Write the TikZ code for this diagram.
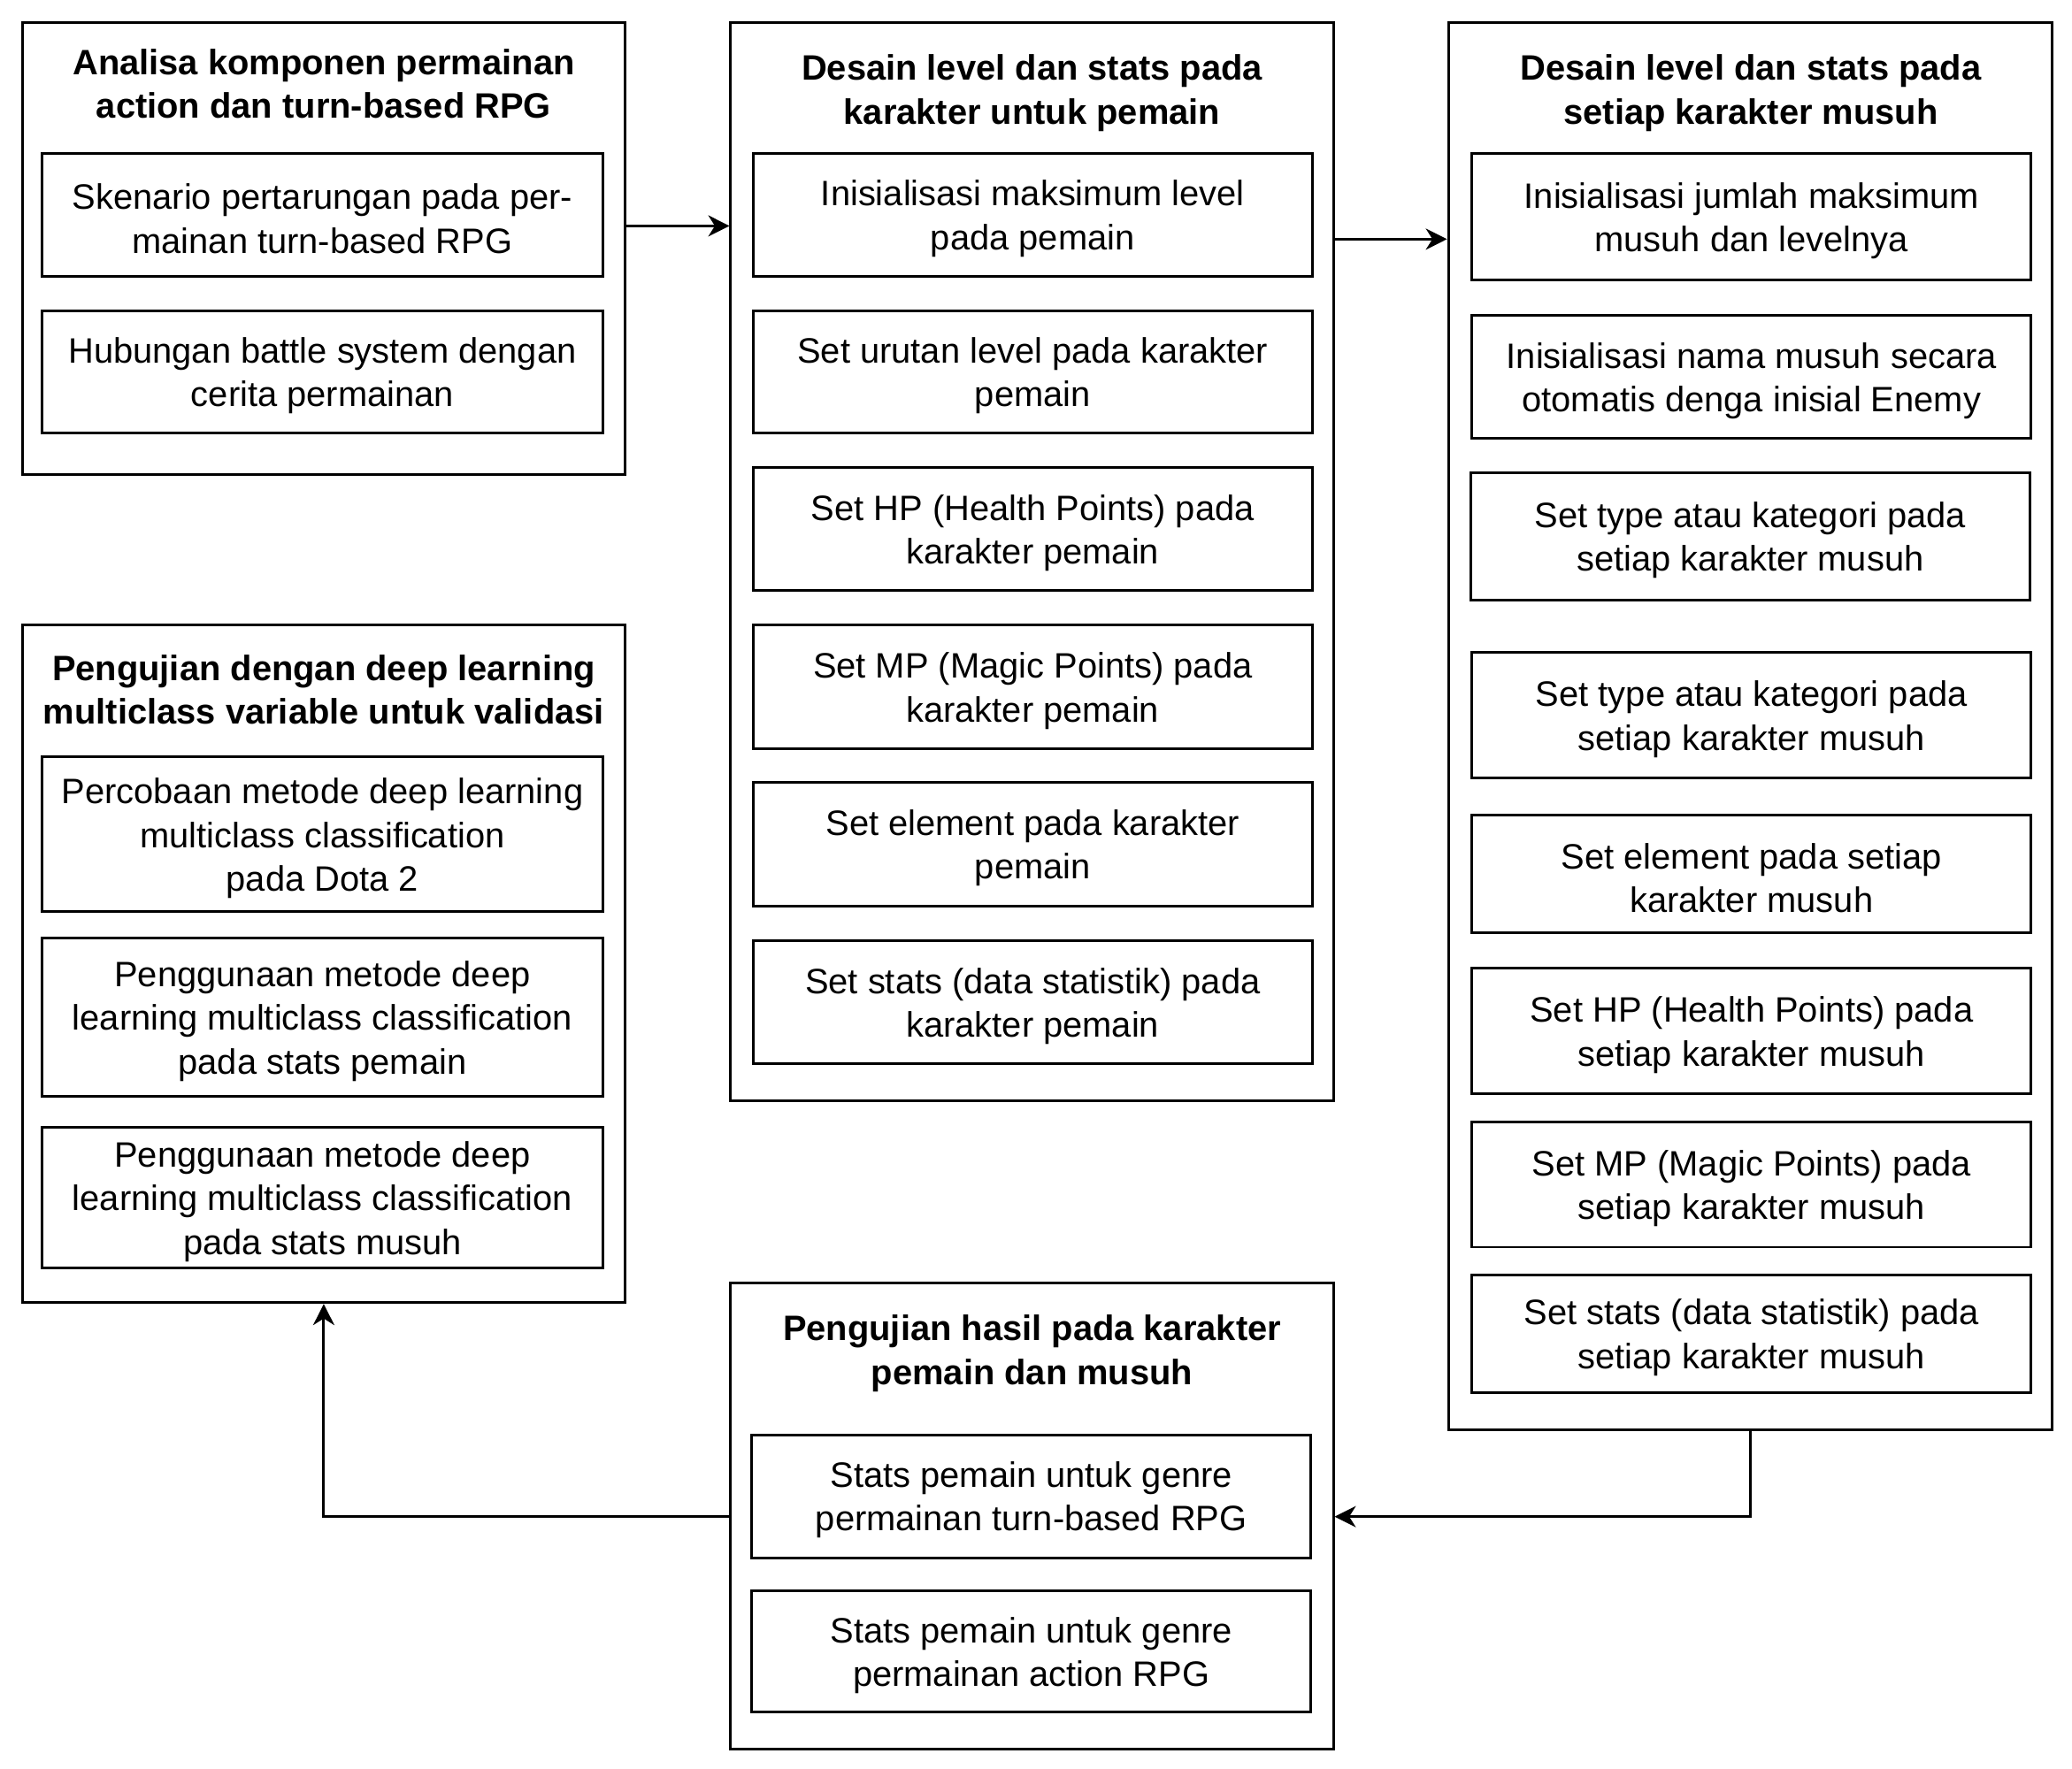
\documentclass[tikz,border=0pt]{standalone}
\usepackage{fontspec}
\setmainfont{Liberation Sans}
\usetikzlibrary{fit,arrows.meta}
\tikzset{
  obox/.style={draw, line width=1pt, inner sep=0pt},
  ibox/.style={draw, line width=1pt, inner sep=0pt},
  itext/.style={align=center, inner sep=0pt, yshift=-1.5pt, font=\fontsize{13.35}{16.5}\selectfont},
  ttext/.style={align=center, inner sep=0pt, font=\fontsize{13.35}{16.5}\selectfont\bfseries},
  arr/.style={line width=1pt, -{Stealth[length=8pt,width=8pt,inset=2.5pt]}}
}
\newcommand\ibx[4]{\node[ibox, fit={(#1) (#2)}] (#3) {}; \node[itext] (#3t) at (#3.center) {#4};}
\begin{document}
\begin{tikzpicture}[x=0.5pt,y=-0.5pt]
\useasboundingbox (0,0) rectangle (1568,1339);
% Box A
\node[obox, fit={(17,17) (473,359)}] (A) {};
\node[ttext] (At) at (245,63.5) {Analisa komponen permainan\\action dan turn-based RPG};
\ibx{32,116}{456,209}{a1}{Skenario pertarungan pada per-\\mainan turn-based RPG}
\ibx{32,235}{456,328}{a2}{Hubungan battle system dengan\\cerita permainan}
% Box B
\node[obox, fit={(553,17) (1009,833)}] (B) {};
\node[ttext] (Bt) at (781,70.5) {Desain level dan stats pada\\karakter untuk pemain};
\ibx{570,116}{993,209}{b1}{Inisialisasi maksimum level\\pada pemain}
\ibx{570,235}{993,328}{b2}{Set urutan level pada karakter\\pemain}
\ibx{570,354}{993,447}{b3}{Set HP (Health Points) pada\\karakter pemain}
\ibx{570,473}{993,567}{b4}{Set MP (Magic Points) pada\\karakter pemain}
\ibx{570,592}{993,686}{b5}{Set element pada karakter\\pemain}
\ibx{570,712}{993,805}{b6}{Set stats (data statistik) pada\\karakter pemain}
% Box C
\node[obox, fit={(1096,17) (1553,1082)}] (C) {};
\node[ttext] (Ct) at (1325,70.5) {Desain level dan stats pada\\setiap karakter musuh};
\ibx{1114,116}{1537,212}{c1}{Inisialisasi jumlah maksimum\\musuh dan levelnya}
\ibx{1114,239}{1537,332}{c2}{Inisialisasi nama musuh secara\\otomatis denga inisial Enemy}
\ibx{1113,358}{1536,454}{c3}{Set type atau kategori pada\\setiap karakter musuh}
\ibx{1114,494}{1537,589}{c4}{Set type atau kategori pada\\setiap karakter musuh}
\ibx{1114,617}{1537,706}{c5}{Set element pada setiap\\karakter musuh}
\ibx{1114,733}{1537,828}{c6}{Set HP (Health Points) pada\\setiap karakter musuh}
\ibx{1114,849}{1537,944}{c7}{Set MP (Magic Points) pada\\setiap karakter musuh}
\ibx{1114,965}{1537,1054}{c8}{Set stats (data statistik) pada\\setiap karakter musuh}
% Box D
\node[obox, fit={(17,473) (473,986)}] (D) {};
\node[ttext] (Dt) at (245,522) {Pengujian dengan deep learning\\multiclass variable untuk validasi};
\ibx{32,573}{456,690}{d1}{Percobaan metode deep learning\\multiclass classification\\pada Dota 2}
\ibx{32,710}{456,830}{d2}{Penggunaan metode deep\\learning multiclass classification\\pada stats pemain}
\ibx{32,853}{456,960}{d3}{Penggunaan metode deep\\learning multiclass classification\\pada stats musuh}
% Box E
\node[obox, fit={(553,971) (1009,1324)}] (E) {};
\node[ttext] (Et) at (781,1024.5) {Pengujian hasil pada karakter\\pemain dan musuh};
\ibx{569,1086}{992,1179}{e1}{Stats pemain untuk genre\\permainan turn-based RPG}
\ibx{569,1204}{992,1296}{e2}{Stats pemain untuk genre\\permainan action RPG}
% connectors
\draw[arr] (A.east |- 0,171) -- (B.west |- 0,171);
\draw[arr] (B.east |- 0,181) -- (C.west |- 0,181);
\draw[arr] (C.south) |- (E.east |- 0,1148);
\draw[arr] (E.west |- 0,1148) -| (D.south);
\end{tikzpicture}
\end{document}
